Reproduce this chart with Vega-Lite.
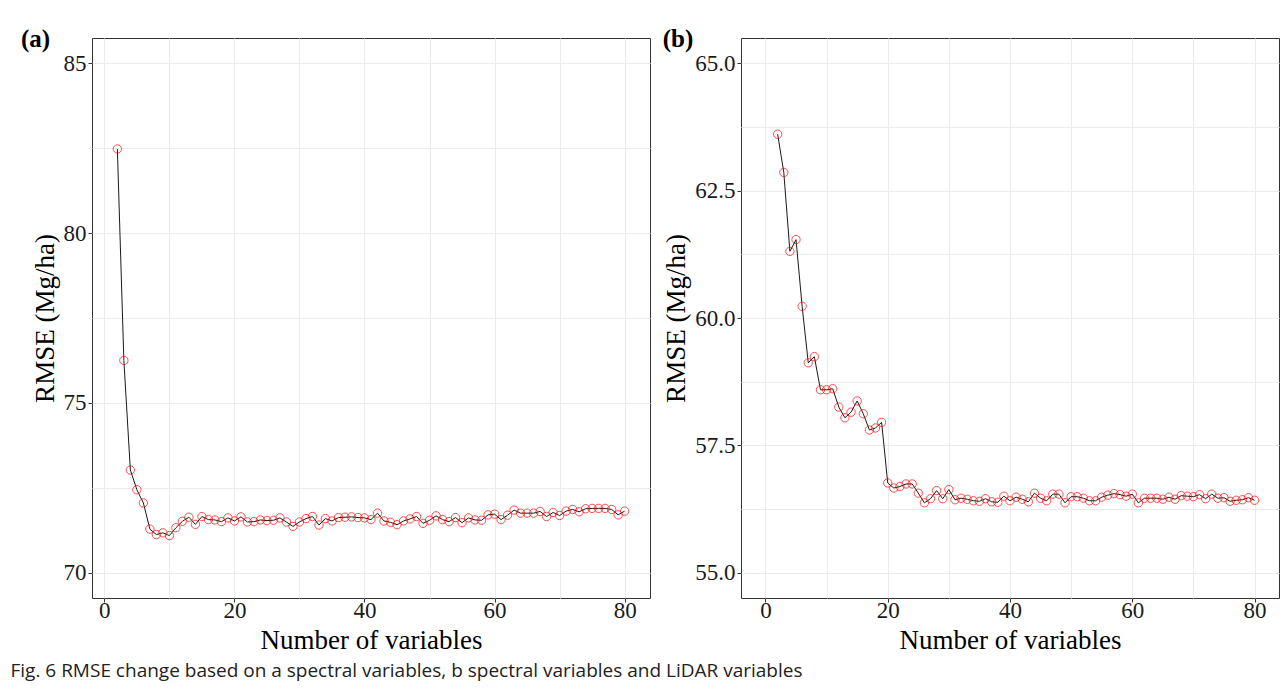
{
  "$schema": "https://vega.github.io/schema/vega-lite/v6.json",
  "background": "white",
  "padding": {"left": 10, "top": 26, "right": 0, "bottom": 4},
  "spacing": 11,
  "config": {
    "view": {"stroke": "#333333", "strokeWidth": 1},
    "axis": {"labelFont": "Liberation Serif", "titleFont": "Liberation Serif", "labelFontSize": 23, "titleFontSize": 27, "labelColor": "#1A1A1A", "titleColor": "#000000", "titleFontWeight": "normal", "tickColor": "#333333", "tickSize": 4, "labelPadding": 2, "domain": false}
  },
  "title": {"text": "Fig. 6  RMSE change based on a spectral variables, b spectral variables and LiDAR variables", "orient": "bottom", "anchor": "start", "frame": "bounds", "font": "Open Sans", "fontSize": 19, "fontWeight": "normal", "color": "#222222", "offset": 8, "dx": -10},
  "datasets": {
    "a": [
      {"n": 2, "rmse": 82.48}, {"n": 3, "rmse": 76.25}, {"n": 4, "rmse": 73.02}, {"n": 5, "rmse": 72.44}, {"n": 6, "rmse": 72.05},
      {"n": 7, "rmse": 71.28}, {"n": 8, "rmse": 71.12}, {"n": 9, "rmse": 71.17}, {"n": 10, "rmse": 71.09}, {"n": 11, "rmse": 71.32},
      {"n": 12, "rmse": 71.51}, {"n": 13, "rmse": 71.63}, {"n": 14, "rmse": 71.42}, {"n": 15, "rmse": 71.65}, {"n": 16, "rmse": 71.56},
      {"n": 17, "rmse": 71.55}, {"n": 18, "rmse": 71.5}, {"n": 19, "rmse": 71.61}, {"n": 20, "rmse": 71.52}, {"n": 21, "rmse": 71.64},
      {"n": 22, "rmse": 71.49}, {"n": 23, "rmse": 71.5}, {"n": 24, "rmse": 71.55}, {"n": 25, "rmse": 71.53}, {"n": 26, "rmse": 71.54},
      {"n": 27, "rmse": 71.61}, {"n": 28, "rmse": 71.49}, {"n": 29, "rmse": 71.36}, {"n": 30, "rmse": 71.49}, {"n": 31, "rmse": 71.59},
      {"n": 32, "rmse": 71.65}, {"n": 33, "rmse": 71.4}, {"n": 34, "rmse": 71.59}, {"n": 35, "rmse": 71.52}, {"n": 36, "rmse": 71.62},
      {"n": 37, "rmse": 71.63}, {"n": 38, "rmse": 71.64}, {"n": 39, "rmse": 71.62}, {"n": 40, "rmse": 71.61}, {"n": 41, "rmse": 71.56},
      {"n": 42, "rmse": 71.75}, {"n": 43, "rmse": 71.52}, {"n": 44, "rmse": 71.48}, {"n": 45, "rmse": 71.41}, {"n": 46, "rmse": 71.52},
      {"n": 47, "rmse": 71.58}, {"n": 48, "rmse": 71.65}, {"n": 49, "rmse": 71.45}, {"n": 50, "rmse": 71.54}, {"n": 51, "rmse": 71.67},
      {"n": 52, "rmse": 71.56}, {"n": 53, "rmse": 71.5}, {"n": 54, "rmse": 71.62}, {"n": 55, "rmse": 71.47}, {"n": 56, "rmse": 71.61},
      {"n": 57, "rmse": 71.55}, {"n": 58, "rmse": 71.54}, {"n": 59, "rmse": 71.7}, {"n": 60, "rmse": 71.72}, {"n": 61, "rmse": 71.56},
      {"n": 62, "rmse": 71.69}, {"n": 63, "rmse": 71.84}, {"n": 64, "rmse": 71.75}, {"n": 65, "rmse": 71.75}, {"n": 66, "rmse": 71.75},
      {"n": 67, "rmse": 71.8}, {"n": 68, "rmse": 71.65}, {"n": 69, "rmse": 71.77}, {"n": 70, "rmse": 71.68}, {"n": 71, "rmse": 71.81},
      {"n": 72, "rmse": 71.86}, {"n": 73, "rmse": 71.79}, {"n": 74, "rmse": 71.88}, {"n": 75, "rmse": 71.89}, {"n": 76, "rmse": 71.89},
      {"n": 77, "rmse": 71.89}, {"n": 78, "rmse": 71.86}, {"n": 79, "rmse": 71.7}, {"n": 80, "rmse": 71.81}
    ],
    "b": [
      {"n": 2, "rmse": 63.61}, {"n": 3, "rmse": 62.86}, {"n": 4, "rmse": 61.31}, {"n": 5, "rmse": 61.54}, {"n": 6, "rmse": 60.23},
      {"n": 7, "rmse": 59.12}, {"n": 8, "rmse": 59.24}, {"n": 9, "rmse": 58.59}, {"n": 10, "rmse": 58.59}, {"n": 11, "rmse": 58.61},
      {"n": 12, "rmse": 58.25}, {"n": 13, "rmse": 58.04}, {"n": 14, "rmse": 58.15}, {"n": 15, "rmse": 58.37}, {"n": 16, "rmse": 58.12},
      {"n": 17, "rmse": 57.8}, {"n": 18, "rmse": 57.84}, {"n": 19, "rmse": 57.95}, {"n": 20, "rmse": 56.76}, {"n": 21, "rmse": 56.66},
      {"n": 22, "rmse": 56.69}, {"n": 23, "rmse": 56.74}, {"n": 24, "rmse": 56.74}, {"n": 25, "rmse": 56.56}, {"n": 26, "rmse": 56.37},
      {"n": 27, "rmse": 56.45}, {"n": 28, "rmse": 56.61}, {"n": 29, "rmse": 56.45}, {"n": 30, "rmse": 56.63}, {"n": 31, "rmse": 56.43},
      {"n": 32, "rmse": 56.46}, {"n": 33, "rmse": 56.44}, {"n": 34, "rmse": 56.41}, {"n": 35, "rmse": 56.4}, {"n": 36, "rmse": 56.45},
      {"n": 37, "rmse": 56.39}, {"n": 38, "rmse": 56.38}, {"n": 39, "rmse": 56.5}, {"n": 40, "rmse": 56.41}, {"n": 41, "rmse": 56.48},
      {"n": 42, "rmse": 56.44}, {"n": 43, "rmse": 56.39}, {"n": 44, "rmse": 56.56}, {"n": 45, "rmse": 56.46}, {"n": 46, "rmse": 56.41},
      {"n": 47, "rmse": 56.54}, {"n": 48, "rmse": 56.54}, {"n": 49, "rmse": 56.37}, {"n": 50, "rmse": 56.49}, {"n": 51, "rmse": 56.49},
      {"n": 52, "rmse": 56.46}, {"n": 53, "rmse": 56.41}, {"n": 54, "rmse": 56.41}, {"n": 55, "rmse": 56.48}, {"n": 56, "rmse": 56.52},
      {"n": 57, "rmse": 56.55}, {"n": 58, "rmse": 56.53}, {"n": 59, "rmse": 56.5}, {"n": 60, "rmse": 56.54}, {"n": 61, "rmse": 56.37},
      {"n": 62, "rmse": 56.46}, {"n": 63, "rmse": 56.46}, {"n": 64, "rmse": 56.46}, {"n": 65, "rmse": 56.44}, {"n": 66, "rmse": 56.48},
      {"n": 67, "rmse": 56.44}, {"n": 68, "rmse": 56.51}, {"n": 69, "rmse": 56.5}, {"n": 70, "rmse": 56.49}, {"n": 71, "rmse": 56.53},
      {"n": 72, "rmse": 56.45}, {"n": 73, "rmse": 56.54}, {"n": 74, "rmse": 56.46}, {"n": 75, "rmse": 56.47}, {"n": 76, "rmse": 56.4},
      {"n": 77, "rmse": 56.42}, {"n": 78, "rmse": 56.43}, {"n": 79, "rmse": 56.47}, {"n": 80, "rmse": 56.42}
    ]
  },
  "hconcat": [
    {
      "title": {"text": "(a)", "anchor": "start", "frame": "bounds", "font": "Liberation Serif", "fontSize": 25, "fontWeight": "bold", "color": "#000000", "offset": -14, "dx": -10},
      "width": 558,
      "height": 560,
      "data": {"name": "a"},
      "layer": [
        {
          "mark": {"type": "line", "color": "#1A1A1A", "strokeWidth": 1},
          "encoding": {
            "x": {"field": "n", "type": "quantitative", "scale": {"domain": [-1.9, 83.9], "nice": false, "zero": false},
                  "axis": {"orient": "bottom", "values": [0, 10, 20, 30, 40, 50, 60, 70, 80], "grid": true, "gridColor": "#EBEBEB", "gridWidth": 1, "labels": false, "ticks": false, "domain": false, "title": null}},
            "y": {"field": "rmse", "type": "quantitative", "scale": {"domain": [69.25, 85.75], "nice": false, "zero": false},
                  "axis": {"orient": "left", "values": [70, 72.5, 75, 77.5, 80, 82.5, 85], "grid": true, "gridColor": "#EBEBEB", "gridWidth": 1, "labels": false, "ticks": false, "domain": false, "title": null}}
          }
        },
        {
          "mark": {"type": "point", "shape": "circle", "filled": false, "color": "#FF0000", "size": 70, "strokeWidth": 1},
          "encoding": {
            "x": {"field": "n", "type": "quantitative", "scale": {"domain": [-1.9, 83.9], "nice": false, "zero": false},
                  "axis": {"orient": "bottom", "values": [0, 20, 40, 60, 80], "grid": false, "labelPadding": -3, "title": "Number of variables", "titlePadding": 5}},
            "y": {"field": "rmse", "type": "quantitative", "scale": {"domain": [69.25, 85.75], "nice": false, "zero": false},
                  "axis": {"orient": "left", "values": [70, 75, 80, 85], "grid": false, "title": "RMSE (Mg/ha)", "titlePadding": 4}}
          }
        }
      ],
      "resolve": {"axis": {"x": "independent", "y": "independent"}}
    },
    {
      "title": {"text": "(b)", "anchor": "start", "frame": "bounds", "font": "Liberation Serif", "fontSize": 25, "fontWeight": "bold", "color": "#000000", "offset": -14},
      "width": 538,
      "height": 560,
      "data": {"name": "b"},
      "layer": [
        {
          "mark": {"type": "line", "color": "#1A1A1A", "strokeWidth": 1},
          "encoding": {
            "x": {"field": "n", "type": "quantitative", "scale": {"domain": [-4, 84], "nice": false, "zero": false},
                  "axis": {"orient": "bottom", "values": [0, 10, 20, 30, 40, 50, 60, 70, 80], "grid": true, "gridColor": "#EBEBEB", "gridWidth": 1, "labels": false, "ticks": false, "domain": false, "title": null}},
            "y": {"field": "rmse", "type": "quantitative", "scale": {"domain": [54.5, 65.5], "nice": false, "zero": false},
                  "axis": {"orient": "left", "values": [55, 56.25, 57.5, 58.75, 60, 61.25, 62.5, 63.75, 65], "grid": true, "gridColor": "#EBEBEB", "gridWidth": 1, "labels": false, "ticks": false, "domain": false, "title": null}}
          }
        },
        {
          "mark": {"type": "point", "shape": "circle", "filled": false, "color": "#FF0000", "size": 70, "strokeWidth": 1},
          "encoding": {
            "x": {"field": "n", "type": "quantitative", "scale": {"domain": [-4, 84], "nice": false, "zero": false},
                  "axis": {"orient": "bottom", "values": [0, 20, 40, 60, 80], "grid": false, "labelPadding": -3, "title": "Number of variables", "titlePadding": 5}},
            "y": {"field": "rmse", "type": "quantitative", "scale": {"domain": [54.5, 65.5], "nice": false, "zero": false},
                  "axis": {"orient": "left", "values": [55, 57.5, 60, 62.5, 65], "format": ".1f", "grid": false, "title": "RMSE (Mg/ha)", "titlePadding": 4}}
          }
        }
      ],
      "resolve": {"axis": {"x": "independent", "y": "independent"}}
    }
  ]
}
